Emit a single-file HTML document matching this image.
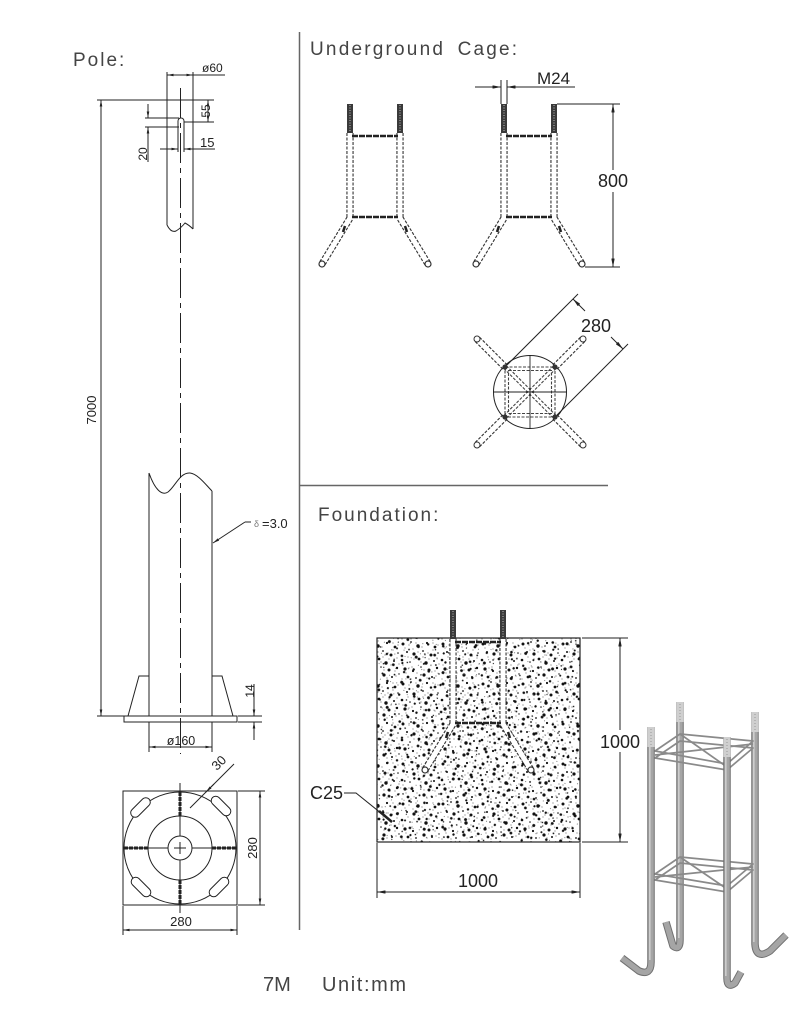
<!DOCTYPE html>
<html><head><meta charset="utf-8"><style>
html,body{margin:0;padding:0;background:#fff}
svg{display:block}
</style></head><body>
<svg width="800" height="1017" viewBox="0 0 800 1017" xmlns="http://www.w3.org/2000/svg" font-family="'Liberation Sans','DejaVu Sans',sans-serif">
<defs>
<marker id="a" viewBox="0 0 10 4" refX="10" refY="2" markerWidth="9" markerHeight="3.4" markerUnits="userSpaceOnUse" orient="auto-start-reverse"><path d="M0,0 L10,2 L0,4 z" fill="#222"/></marker>
<marker id="s" viewBox="0 0 10 4" refX="10" refY="2" markerWidth="6.5" markerHeight="2.6" markerUnits="userSpaceOnUse" orient="auto-start-reverse"><path d="M0,0 L10,2 L0,4 z" fill="#222"/></marker>
<pattern id="sp" width="40" height="40" patternUnits="userSpaceOnUse">
<g fill="#111">
<circle cx="3" cy="4" r="1.5"/><circle cx="11" cy="2" r="0.9"/><circle cx="18" cy="6" r="1.7"/><circle cx="27" cy="3" r="1.1"/><circle cx="35" cy="7" r="1.4"/>
<circle cx="7" cy="12" r="1.0"/><circle cx="14" cy="14" r="1.6"/><circle cx="23" cy="11" r="0.9"/><circle cx="31" cy="15" r="1.5"/><circle cx="38" cy="13" r="0.8"/>
<circle cx="2" cy="20" r="1.3"/><circle cx="10" cy="22" r="0.8"/><circle cx="19" cy="19" r="1.4"/><circle cx="26" cy="23" r="1.7"/><circle cx="34" cy="21" r="1.0"/>
<circle cx="5" cy="29" r="1.6"/><circle cx="13" cy="31" r="1.1"/><circle cx="21" cy="27" r="0.8"/><circle cx="29" cy="30" r="1.5"/><circle cx="37" cy="28" r="1.2"/>
<circle cx="8" cy="37" r="1.4"/><circle cx="16" cy="38" r="0.9"/><circle cx="24" cy="35" r="1.6"/><circle cx="32" cy="37" r="1.0"/><circle cx="39" cy="34" r="0.7"/>
</g>
<g fill="#444">
<circle cx="5" cy="8" r="0.55"/><circle cx="9" cy="5" r="0.55"/><circle cx="13" cy="9" r="0.55"/><circle cx="16" cy="3" r="0.55"/><circle cx="22" cy="7" r="0.55"/>
<circle cx="25" cy="15" r="0.55"/><circle cx="29" cy="19" r="0.55"/><circle cx="33" cy="3" r="0.55"/><circle cx="37" cy="18" r="0.55"/><circle cx="3" cy="25" r="0.55"/>
<circle cx="8" cy="17" r="0.55"/><circle cx="12" cy="27" r="0.55"/><circle cx="17" cy="33" r="0.55"/><circle cx="21" cy="22" r="0.55"/><circle cx="27" cy="38" r="0.55"/>
<circle cx="31" cy="25" r="0.55"/><circle cx="35" cy="31" r="0.55"/><circle cx="39" cy="24" r="0.55"/><circle cx="6" cy="33" r="0.55"/><circle cx="11" cy="39" r="0.55"/>
<circle cx="18" cy="12" r="0.55"/><circle cx="24" cy="30" r="0.55"/><circle cx="28" cy="13" r="0.55"/><circle cx="33" cy="10" r="0.55"/><circle cx="38" cy="5" r="0.55"/>
<circle cx="2" cy="39" r="0.55"/><circle cx="14" cy="19" r="0.55"/><circle cx="23" cy="17" r="0.55"/><circle cx="36" cy="36" r="0.55"/><circle cx="9" cy="28" r="0.55"/>
</g>
</pattern>
<pattern id="sp2" width="31" height="29" patternUnits="userSpaceOnUse" patternTransform="rotate(30)">
<g fill="#111">
<circle cx="4" cy="3" r="1.2"/><circle cx="13" cy="6" r="0.8"/><circle cx="22" cy="2" r="1.4"/><circle cx="28" cy="10" r="0.9"/><circle cx="7" cy="13" r="1.5"/><circle cx="17" cy="15" r="1.0"/>
<circle cx="25" cy="19" r="1.3"/><circle cx="2" cy="22" r="0.8"/><circle cx="11" cy="25" r="1.2"/><circle cx="20" cy="26" r="0.7"/><circle cx="29" cy="25" r="1.1"/><circle cx="15" cy="9" r="0.6"/>
</g>
<g fill="#555">
<circle cx="9" cy="8" r="0.5"/><circle cx="18" cy="21" r="0.5"/><circle cx="26" cy="4" r="0.5"/><circle cx="3" cy="16" r="0.5"/><circle cx="24" cy="13" r="0.5"/><circle cx="13" cy="19" r="0.5"/><circle cx="6" cy="27" r="0.5"/><circle cx="28" cy="18" r="0.5"/>
</g>
</pattern>
<g id="cage">
<rect x="347" y="104" width="6" height="29" fill="#3a3a3a"/>
<rect x="397" y="104" width="6" height="29" fill="#3a3a3a"/>
<line x1="350" y1="105" x2="350" y2="132" stroke="#aaa" stroke-width="1.2" stroke-dasharray="1 1.5"/>
<line x1="400" y1="105" x2="400" y2="132" stroke="#aaa" stroke-width="1.2" stroke-dasharray="1 1.5"/>
<g fill="none" stroke-linejoin="round">
<path d="M350,133 V218 L322,264" stroke="#333" stroke-width="7.2" stroke-dasharray="3 1.5"/>
<path d="M400,133 V218 L428,264" stroke="#333" stroke-width="7.2" stroke-dasharray="3 1.5"/>
<path d="M350,133 V218 L322,264" stroke="#fff" stroke-width="5"/>
<path d="M400,133 V218 L428,264" stroke="#fff" stroke-width="5"/>
</g>
<line x1="352" y1="136" x2="398" y2="136" stroke="#222" stroke-width="2.6" stroke-dasharray="6 1"/>
<line x1="352" y1="217" x2="398" y2="217" stroke="#222" stroke-width="2.6" stroke-dasharray="6 1"/>
<line x1="345" y1="226" x2="343" y2="232" stroke="#222" stroke-width="2.5"/>
<line x1="405" y1="226" x2="407" y2="232" stroke="#222" stroke-width="2.5"/>
<circle cx="322" cy="264" r="3" fill="#fff" stroke="#333" stroke-width="1.2"/>
<circle cx="428" cy="264" r="3" fill="#fff" stroke="#333" stroke-width="1.2"/>
</g>
</defs>

<!-- dividers -->
<line x1="299.5" y1="32" x2="299.5" y2="930" stroke="#666" stroke-width="1.5"/>
<line x1="299" y1="485.5" x2="608" y2="485.5" stroke="#666" stroke-width="1.5"/>

<!-- ================= POLE ================= -->
<text x="73" y="66" font-size="19" letter-spacing="2" fill="#444">Pole:</text>
<g stroke="#222" stroke-width="1" fill="none">
<line x1="97" y1="100" x2="214" y2="100"/>
<line x1="167" y1="72" x2="167" y2="225"/>
<line x1="193" y1="72" x2="193" y2="229"/>
<path d="M167,225 Q171,233 176,231 Q181,228 185,223 Q189,225 193,229"/>
<line x1="167" y1="75" x2="193" y2="75" marker-start="url(#s)" marker-end="url(#s)"/>
<line x1="193" y1="75" x2="225" y2="75"/>
<path d="M178,152 V121 A3,3 0 0 1 184,121 V152"/>
<line x1="208" y1="100" x2="208" y2="122" marker-start="url(#s)" marker-end="url(#s)"/>
<line x1="184" y1="122" x2="214" y2="122"/>
<line x1="160" y1="149" x2="178" y2="149" marker-end="url(#s)"/>
<line x1="215" y1="149" x2="184" y2="149" marker-end="url(#s)"/>
<line x1="145" y1="118" x2="179" y2="118"/>
<line x1="145" y1="127" x2="179" y2="127"/>
<line x1="148" y1="104" x2="148" y2="118" marker-end="url(#s)"/>
<line x1="148" y1="162" x2="148" y2="127" marker-end="url(#s)"/>
<line x1="101" y1="100" x2="101" y2="716" marker-start="url(#s)" marker-end="url(#s)"/>
<line x1="180.5" y1="88" x2="180.5" y2="754" stroke-dasharray="30 5 5 5"/>
<!-- lower pole -->
<line x1="149" y1="473" x2="149" y2="716"/>
<line x1="212" y1="491" x2="212" y2="716"/>
<path d="M149,473 C155,490 162,496 168,492 C175,487 180,472 190,473 C198,474 206,485 212,491"/>
<path d="M149,676 H139 L128,716"/>
<path d="M212,676 H222 L233,716"/>
<line x1="97" y1="716" x2="237" y2="716"/>
<rect x="124" y="716" width="113" height="6"/>
<line x1="213" y1="543" x2="245" y2="522" marker-start="url(#s)"/>
<line x1="245" y1="522" x2="251" y2="522"/>
<line x1="238" y1="716" x2="262" y2="716"/>
<line x1="238" y1="722" x2="262" y2="722"/>
<line x1="254" y1="684" x2="254" y2="716" marker-end="url(#s)"/>
<line x1="254" y1="740" x2="254" y2="722" marker-end="url(#s)"/>
<line x1="149" y1="722" x2="149" y2="752"/>
<line x1="212" y1="722" x2="212" y2="752"/>
<line x1="149" y1="747" x2="212" y2="747" marker-start="url(#s)" marker-end="url(#s)"/>
</g>
<g fill="#222" font-size="12">
<text x="202" y="72">ø60</text>
<text transform="translate(210,111) rotate(-90)" text-anchor="middle">55</text>
<text x="200" y="147" font-size="13">15</text>
<text transform="translate(147,154) rotate(-90)" text-anchor="middle">20</text>
<text transform="translate(96,410) rotate(-90)" text-anchor="middle" font-size="13">7000</text>
<text x="254" y="527" font-size="9" fill="#777">δ</text>
<text x="262" y="528" font-size="13">=3.0</text>
<text transform="translate(254,691) rotate(-90)" text-anchor="middle">14</text>
<text x="181" y="745" text-anchor="middle" font-size="12.5">ø160</text>
</g>

<!-- base plate plan -->
<g stroke="#222" stroke-width="1" fill="none">
<rect x="123" y="791" width="114" height="114"/>
<circle cx="180" cy="848" r="56"/>
<circle cx="180" cy="848" r="32"/>
<circle cx="180" cy="848" r="12"/>
<line x1="124" y1="848" x2="168" y2="848"/>
<line x1="192" y1="848" x2="236" y2="848"/>
<line x1="180" y1="783" x2="180" y2="836"/>
<line x1="180" y1="860" x2="180" y2="913"/>
<line x1="174" y1="848" x2="186" y2="848"/>
<line x1="180" y1="842" x2="180" y2="854"/>
<g stroke-width="3" stroke-dasharray="4 1">
<line x1="180" y1="792" x2="180" y2="816"/>
<line x1="180" y1="880" x2="180" y2="904"/>
<line x1="124" y1="848" x2="148" y2="848"/>
<line x1="212" y1="848" x2="236" y2="848"/>
</g>
<g fill="#fff">
<rect x="-12" y="-4.5" width="24" height="9" rx="4.5" transform="translate(140.5,807.5) rotate(-45)"/>
<rect x="-12" y="-4.5" width="24" height="9" rx="4.5" transform="translate(221,806) rotate(45)"/>
<rect x="-12" y="-4.5" width="24" height="9" rx="4.5" transform="translate(141,887) rotate(45)"/>
<rect x="-12" y="-4.5" width="24" height="9" rx="4.5" transform="translate(219,887) rotate(-45)"/>
</g>
<line x1="190" y1="808" x2="234" y2="764"/>
<line x1="214" y1="784" x2="206" y2="792" marker-end="url(#s)"/>
<line x1="238" y1="791" x2="265" y2="791"/>
<line x1="238" y1="905" x2="265" y2="905"/>
<line x1="260" y1="791" x2="260" y2="905" marker-start="url(#s)" marker-end="url(#s)"/>
<line x1="123" y1="906" x2="123" y2="935"/>
<line x1="237" y1="906" x2="237" y2="935"/>
<line x1="123" y1="930" x2="237" y2="930" marker-start="url(#s)" marker-end="url(#s)"/>
</g>
<g fill="#222" font-size="13">
<text transform="translate(222,766) rotate(-45)" text-anchor="middle">30</text>
<text transform="translate(257,848) rotate(-90)" text-anchor="middle">280</text>
<text x="181" y="926" text-anchor="middle">280</text>
</g>

<!-- ================= UNDERGROUND CAGE ================= -->
<text x="310" y="55" font-size="19" letter-spacing="2.2" word-spacing="5" fill="#444">Underground Cage:</text>
<use href="#cage"/>
<use href="#cage" transform="translate(154,0)"/>
<g stroke="#222" stroke-width="1" fill="none">
<line x1="475" y1="87" x2="501" y2="87" marker-end="url(#a)"/>
<line x1="575" y1="87" x2="507" y2="87" marker-end="url(#a)"/>
<line x1="501" y1="80" x2="501" y2="104"/>
<line x1="507" y1="80" x2="507" y2="104"/>
<line x1="557" y1="104" x2="620" y2="104"/>
<line x1="585" y1="267" x2="620" y2="267"/>
<line x1="613" y1="170" x2="613" y2="104" marker-end="url(#a)"/>
<line x1="613" y1="192" x2="613" y2="267" marker-end="url(#a)"/>
</g>
<g fill="#222" font-size="17">
<text x="537" y="84">M24</text>
<text x="613" y="187" text-anchor="middle" font-size="18">800</text>
</g>

<!-- cage plan -->
<g fill="none">
<g stroke-linejoin="round">
<line x1="505" y1="367" x2="477" y2="339" stroke="#333" stroke-width="7.2" stroke-dasharray="3 1.5"/>
<line x1="555" y1="367" x2="583" y2="339" stroke="#333" stroke-width="7.2" stroke-dasharray="3 1.5"/>
<line x1="505" y1="417" x2="477" y2="445" stroke="#333" stroke-width="7.2" stroke-dasharray="3 1.5"/>
<line x1="555" y1="417" x2="583" y2="445" stroke="#333" stroke-width="7.2" stroke-dasharray="3 1.5"/>
<line x1="505" y1="367" x2="477" y2="339" stroke="#fff" stroke-width="5"/>
<line x1="555" y1="367" x2="583" y2="339" stroke="#fff" stroke-width="5"/>
<line x1="505" y1="417" x2="477" y2="445" stroke="#fff" stroke-width="5"/>
<line x1="555" y1="417" x2="583" y2="445" stroke="#fff" stroke-width="5"/>
</g>
<circle cx="477" cy="339" r="3" fill="#fff" stroke="#333"/>
<circle cx="583" cy="339" r="3" fill="#fff" stroke="#333"/>
<circle cx="477" cy="445" r="3" fill="#fff" stroke="#333"/>
<circle cx="583" cy="445" r="3" fill="#fff" stroke="#333"/>
<circle cx="530" cy="392" r="36.5" stroke="#222"/>
<g stroke="#444" stroke-dasharray="3 1.5" stroke-width="1.1">
<rect x="505" y="367" width="50" height="50"/>
<rect x="508.5" y="370.5" width="43" height="43"/>
<line x1="506.3" y1="365.7" x2="556.3" y2="415.7"/>
<line x1="503.7" y1="368.3" x2="553.7" y2="418.3"/>
<line x1="553.7" y1="365.7" x2="503.7" y2="415.7"/>
<line x1="556.3" y1="368.3" x2="506.3" y2="418.3"/>
</g>
<g stroke="#222" stroke-width="0.9">
<line x1="493" y1="392" x2="567" y2="392"/>
<line x1="530" y1="355" x2="530" y2="429"/>
</g>
<g fill="#333">
<circle cx="505" cy="367" r="2.6"/><circle cx="555" cy="367" r="2.6"/><circle cx="505" cy="417" r="2.6"/><circle cx="555" cy="417" r="2.6"/>
</g>
<g stroke="#222" stroke-width="1">
<line x1="507" y1="365" x2="578" y2="294"/>
<line x1="557" y1="415" x2="628" y2="344"/>
<line x1="585" y1="311" x2="573" y2="299" marker-end="url(#a)"/>
<line x1="611" y1="337" x2="623" y2="349" marker-end="url(#a)"/>
</g>
</g>
<text x="596" y="332" text-anchor="middle" font-size="18" fill="#222">280</text>

<!-- ================= FOUNDATION ================= -->
<text x="318" y="521" font-size="19" letter-spacing="2" fill="#444">Foundation:</text>
<rect x="377" y="638" width="203" height="204" fill="url(#sp)"/>
<rect x="377" y="638" width="203" height="204" fill="url(#sp2)" stroke="#222" stroke-width="1.2"/>
<use href="#cage" transform="translate(103,506)"/>
<g stroke="#222" stroke-width="1" fill="none">
<line x1="582" y1="638" x2="628" y2="638"/>
<line x1="582" y1="842" x2="628" y2="842"/>
<line x1="620" y1="730" x2="620" y2="638" marker-end="url(#a)"/>
<line x1="620" y1="752" x2="620" y2="842" marker-end="url(#a)"/>
<line x1="377" y1="843" x2="377" y2="898"/>
<line x1="580" y1="843" x2="580" y2="898"/>
<line x1="377" y1="892" x2="580" y2="892" marker-start="url(#a)" marker-end="url(#a)"/>
<path d="M344,793 H356 L392,822"/>
<line x1="379" y1="811" x2="392" y2="822" stroke-width="2.6"/>
</g>
<g fill="#222" font-size="18">
<text x="620" y="748" text-anchor="middle">1000</text>
<text x="478" y="887" text-anchor="middle">1000</text>
<text x="310" y="799">C25</text>
</g>

<!-- ================= 3D CAGE ================= -->
<g fill="none" stroke-linecap="butt" stroke-linejoin="round">
<g id="back">
<path d="M680,702 V940 Q680,951 673,946 L666,922" stroke="#707070" stroke-width="7.5"/>
<path d="M755,712 V944 Q756,960 770,951 L786,935" stroke="#707070" stroke-width="7.5"/>
<path d="M680,702 V940 Q680,951 673,946 L666,922" stroke="#a5a5a5" stroke-width="5.5"/>
<path d="M755,712 V944 Q756,960 770,951 L786,935" stroke="#a5a5a5" stroke-width="5.5"/>
<path d="M678.8,703 V938" stroke="#cdcdcd" stroke-width="1.6"/>
<path d="M753.8,713 V942" stroke="#cdcdcd" stroke-width="1.6"/>
</g>
<g stroke="#8a8a8a" stroke-width="1.7">
<path d="M655,751 L680,734 L753,741 L727,764 Z"/>
<path d="M655,758 L680,741 L753,748 L727,770 Z"/>
<path d="M680,734 L727,767 M655,755 L753,744"/>
<path d="M655,874 L680,857 L753,864 L727,886 Z"/>
<path d="M655,880 L680,863 L753,870 L727,892 Z"/>
<path d="M680,857 L727,889 M655,877 L753,867"/>
</g>
<path d="M651,727 V962 Q651,976 639,971 L622,958" stroke="#707070" stroke-width="7.5"/>
<path d="M727,737 V978 Q727,989 735,983 L741,972" stroke="#707070" stroke-width="7.5"/>
<path d="M651,727 V962 Q651,976 639,971 L622,958" stroke="#a5a5a5" stroke-width="5.5"/>
<path d="M727,737 V978 Q727,989 735,983 L741,972" stroke="#a5a5a5" stroke-width="5.5"/>
<path d="M649.8,728 V960" stroke="#cdcdcd" stroke-width="1.6"/>
<path d="M725.8,738 V976" stroke="#cdcdcd" stroke-width="1.6"/>
</g>
<g fill="#cfcfcf">
<rect x="676.5" y="702" width="7" height="20"/>
<rect x="751.5" y="712" width="7" height="20"/>
<rect x="647.5" y="727" width="7" height="20"/>
<rect x="723.5" y="737" width="7" height="20"/>
</g>
<g stroke="#9a9a9a" stroke-width="1" stroke-dasharray="1 2">
<line x1="680" y1="704" x2="680" y2="721"/>
<line x1="755" y1="714" x2="755" y2="731"/>
<line x1="651" y1="729" x2="651" y2="746"/>
<line x1="727" y1="739" x2="727" y2="756"/>
</g>

<!-- bottom caption -->
<text x="263" y="991" font-size="20" fill="#444">7M</text>
<text x="322" y="991" font-size="20" letter-spacing="1.6" fill="#444">Unit:mm</text>
</svg>
</body></html>
